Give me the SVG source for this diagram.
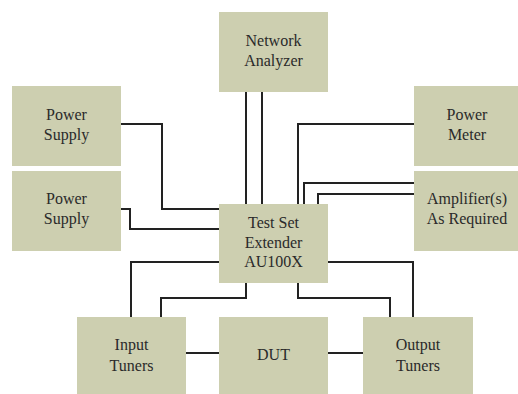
<svg xmlns="http://www.w3.org/2000/svg" width="518" height="394" viewBox="0 0 518 394">
<style>
.box{fill:#cdcfb0;}
.t{font-family:'Liberation Serif','Times New Roman',serif;font-size:16px;fill:#2a2a2a;text-anchor:middle;}
.c{fill:none;stroke:#222;stroke-width:2;}
</style>
<rect width="518" height="394" fill="#fff"/>
<g id="connectors">
<path class="c" d="M246,92 V204"/>
<path class="c" d="M262,92 V204"/>
<path class="c" d="M414,124 H298 V204"/>
<path class="c" d="M414,183 H304 V204"/>
<path class="c" d="M414,194 H318 V204"/>
<path class="c" d="M121,124 H162 V209 H219"/>
<path class="c" d="M121,209 H130 V229 H219"/>
<path class="c" d="M219,262 H131 V317"/>
<path class="c" d="M246,283 V298 H161 V317"/>
<path class="c" d="M328,262 H413 V317"/>
<path class="c" d="M298,283 V298 H390 V317"/>
<path class="c" d="M186,353 H219"/>
<path class="c" d="M328,353 H363"/>
</g>
<g id="network-analyzer">
<rect class="box" x="219" y="12" width="109" height="80"/>
<text class="t" x="273.5" y="46">Network</text>
<text class="t" x="273.5" y="66">Analyzer</text>
</g>
<g id="power-supply-1">
<rect class="box" x="12" y="86" width="109" height="80"/>
<text class="t" x="66.5" y="120">Power</text>
<text class="t" x="66.5" y="140">Supply</text>
</g>
<g id="power-supply-2">
<rect class="box" x="12" y="171" width="109" height="80"/>
<text class="t" x="66.5" y="204">Power</text>
<text class="t" x="66.5" y="224">Supply</text>
</g>
<g id="power-meter">
<rect class="box" x="414" y="86" width="104" height="80"/>
<text class="t" x="467" y="120">Power</text>
<text class="t" x="467" y="140">Meter</text>
</g>
<g id="amplifiers">
<rect class="box" x="414" y="171" width="104" height="80"/>
<text class="t" x="467" y="204">Amplifier(s)</text>
<text class="t" x="467" y="224">As Required</text>
</g>
<g id="test-set-extender">
<rect class="box" x="219" y="204" width="109" height="79"/>
<text class="t" x="273.5" y="228">Test Set</text>
<text class="t" x="273.5" y="247.5">Extender</text>
<text class="t" x="273.5" y="267">AU100X</text>
</g>
<g id="input-tuners">
<rect class="box" x="77" y="317" width="109" height="77"/>
<text class="t" x="131.5" y="350">Input</text>
<text class="t" x="131.5" y="371">Tuners</text>
</g>
<g id="dut">
<rect class="box" x="219" y="317" width="109" height="77"/>
<text class="t" x="273.5" y="360">DUT</text>
</g>
<g id="output-tuners">
<rect class="box" x="363" y="317" width="110" height="77"/>
<text class="t" x="418" y="350">Output</text>
<text class="t" x="418" y="371">Tuners</text>
</g>
</svg>
